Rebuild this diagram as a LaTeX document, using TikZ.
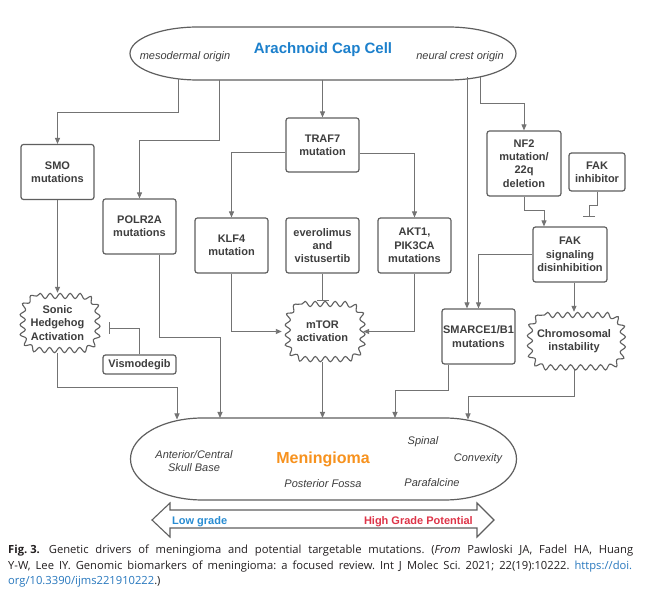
\documentclass[tikz,border=0pt]{standalone}
\usepackage{fontspec}
\setmainfont{Liberation Sans}
\newfontfamily\capfont{Open Sans}
\usetikzlibrary{arrows.meta, decorations.pathmorphing, calc, shapes.geometric}
\definecolor{linegray}{RGB}{115,115,115}
\definecolor{boxgray}{RGB}{95,95,95}
\definecolor{txtgray}{RGB}{62,62,62}
\definecolor{arachblue}{RGB}{28,128,204}
\definecolor{menorange}{RGB}{247,146,30}
\definecolor{hired}{RGB}{222,52,72}
\definecolor{lowblue}{RGB}{40,140,210}
\definecolor{linkblue}{RGB}{40,120,190}
\definecolor{captxt}{RGB}{35,31,32}
\tikzset{
  boxnode/.style={draw=boxgray, line width=1.2pt, rounded corners=2.5pt, fill=white, align=center,
    font=\bfseries\fontsize{11}{13.3}\selectfont, text=txtgray, inner sep=0pt,
    minimum width=73pt, minimum height=55pt},
  burst/.style={rectangle, inner sep=0pt, align=center, font=\bfseries\fontsize{11}{13.3}\selectfont, text=txtgray},
  wavy/.style={draw=boxgray, line width=1.1pt, decorate, decoration={snake, amplitude=2.6pt, segment length=10pt}},
  conn/.style={draw=linegray, line width=0.9pt, -{Triangle[length=6pt,width=5pt]}},
  inhib/.style={draw=linegray, line width=0.9pt, -{Bar[width=12pt,line width=0.9pt]}},
  lbl/.style={font=\itshape\fontsize{11}{13.3}\selectfont, text=txtgray, inner sep=0pt, align=center},
  outline/.style={draw=boxgray, line width=1.2pt},
  capstyle/.style={font=\capfont\fontsize{11.2}{13}\selectfont\frenchspacing, text=captxt, inner sep=0pt, anchor=west}
}
% wavy rounded rectangle: left, right, top, bottom (pixel coords), corner radius
\newcommand{\wavyrect}[5]{%
  \draw[wavy] (#1+#5,#3) -- (#2-#5,#3) arc[start angle=90, end angle=0, radius=#5pt]
    -- (#2,#4-#5) arc[start angle=0, end angle=-90, radius=#5pt]
    -- (#1+#5,#4) arc[start angle=-90, end angle=-180, radius=#5pt]
    -- (#1,#3+#5) arc[start angle=180, end angle=90, radius=#5pt] -- cycle;}
\begin{document}
\begin{tikzpicture}[x=1pt, y=-1pt]
\useasboundingbox[fill=white] (0,0) rectangle (649,601);

% top stadium
\draw[outline] (198,27) arc[start angle=90, end angle=270, x radius=68pt, y radius=26.5pt] -- (448,80)
  arc[start angle=-90, end angle=90, x radius=68pt, y radius=26.5pt] -- cycle;
\node[font=\bfseries\fontsize{15}{17}\selectfont, text=arachblue, inner sep=0pt] (arach) at (323,50) {Arachnoid Cap Cell};
\node[lbl] (meso) at (185,57) {mesodermal origin};
\node[lbl] (neural) at (460,57) {neural crest origin};
\coordinate (o1) at (178,79);
\coordinate (o2) at (219,80);
\coordinate (o3) at (322.5,80);
\coordinate (o4) at (467,77.5);
\coordinate (o5) at (480,77);

% bottom stadium
\draw[outline] (202.5,418) arc[start angle=90, end angle=270, x radius=72pt, y radius=41pt] -- (444.5,500)
  arc[start angle=-90, end angle=90, x radius=72pt, y radius=41pt] -- cycle;
\node[font=\bfseries\fontsize{16}{18}\selectfont, text=menorange, inner sep=0pt] (men) at (323,459) {Meningioma};
\node[lbl] (ant) at (194,461) {Anterior/Central\\Skull Base};
\node[lbl] (spinal) at (423,442) {Spinal};
\node[lbl] (convex) at (478,459) {Convexity};
\node[lbl] (post) at (323,484) {Posterior Fossa};
\node[lbl] (parf) at (432,483) {Parafalcine};
\coordinate (i1) at (177,419.5);
\coordinate (i2) at (220,418);
\coordinate (i3) at (322.5,418);
\coordinate (i4) at (395,418);
\coordinate (i5) at (468,419.5);

% boxes
\node[boxnode] (smo) at (57.5,172) {SMO\\mutations};
\node[boxnode] (polr) at (139.5,226.5) {POLR2A\\mutations};
\node[boxnode, minimum height=54pt] (traf) at (322.5,145) {TRAF7\\mutation};
\node[boxnode] (klf) at (231.5,245.5) {KLF4\\mutation};
\node[boxnode] (ever) at (322.5,245.5) {everolimus\\and\\vistusertib};
\node[boxnode] (akt) at (414.5,245.5) {AKT1,\\PIK3CA\\mutations};
\node[boxnode, minimum width=74pt, minimum height=65pt] (nf2) at (524,163.5) {NF2\\mutation/\\22q\\deletion};
\node[boxnode, minimum width=56pt, minimum height=38pt] (fakinh) at (597,172) {FAK\\inhibitor};
\node[boxnode, minimum width=74pt] (fak) at (570,254.5) {FAK\\signaling\\disinhibition};
\node[boxnode] (smarce) at (478.5,336.5) {SMARCE1/B1\\mutations};
\node[boxnode, minimum height=19pt] (vis) at (139.5,364.5) {Vismodegib};

% bursts
\node[burst, minimum width=81pt, minimum height=60pt] (sonic) at (57.5,323) {Sonic\\Hedgehog\\Activation};
\wavyrect{20}{95}{296}{350}{17}
\node[burst, minimum width=81pt, minimum height=61pt] (mtor) at (322.5,331.5) {mTOR\\activation};
\wavyrect{285}{360}{304}{359}{17}
\node[burst, minimum width=99pt, minimum height=58pt] (chrom) at (574,341) {Chromosomal\\instability};
\wavyrect{527.5}{620.5}{315}{367}{17}

% connectors from Arachnoid Cap Cell
\draw[conn] (o1) -- (o1 |- 0,112) -| (smo.north);
\draw[conn] (o2) -- (o2 |- 0,140) -| (polr.north);
\draw[conn] (o3) -- (traf.north);
\draw[conn] (o4) -- (o4 |- smarce.north);
\draw[conn] (o5) -- (o5 |- 0,103) -| (nf2.north);

% TRAF7 branch
\draw[conn] ($(traf.west)+(0,7)$) -| (klf.north);
\draw[conn] ($(traf.east)+(0,8)$) -| (akt.north);
\draw[conn] (klf.south) |- (mtor.west);
\draw[conn] (akt.south) |- (mtor.east);
\draw[inhib] (ever.south) -- (mtor.north);
\draw[conn] (mtor.south) -- (i3);

% SMO branch
\draw[conn] (smo.south) -- (sonic.north);
\draw[inhib] (vis.north) |- (109,328);
\draw[conn] (sonic.south) -- (sonic.south |- 0,387) -| (i1);
\draw[conn] ($(polr.south)+(20,0)$) -- ++(0,83) -| (i2);

% NF2 / FAK branch
\draw[conn] (nf2.south) -- (nf2.south |- 0,210) -| ($(fak.north)+(-26,0)$);
\draw[inhib] (fakinh.south) -- (fakinh.south |- 0,205) -| (589,217);
\draw[conn] (fak.west) -| (smarce.north);
\draw[conn] (fak.south -| chrom.north) -- (chrom.north);
\draw[conn] ($(smarce.south)+(-30,0)$) -- ++(0,26) -| (i4);
\draw[conn] (chrom.south) -- (chrom.south |- 0,396) -| (i5);

% grade arrow
\draw[outline, line width=1.1pt] (152,520) -- (170,503) -- (170,510) -- (477,510) -- (477,503) -- (494,520)
  -- (477,537) -- (477,528) -- (170,528) -- (170,537) -- cycle;
\node[font=\bfseries\fontsize{11}{13}\selectfont, text=lowblue, anchor=west, inner sep=0pt] (low) at (172,522) {Low grade};
\node[font=\bfseries\fontsize{11}{13}\selectfont, text=hired, anchor=east, inner sep=0pt] (high) at (473,522) {High Grade Potential};

% caption
\node[capstyle] (cap1) at (8,551) {\makebox[625pt][s]{\textbf{Fig.\hspace{3pt}3.}\hspace{9pt}Genetic drivers of meningioma and potential targetable mutations. (\textit{From} Pawloski JA, Fadel HA, Huang}};
\node[capstyle] (cap2) at (8,567) {\makebox[624pt][s]{Y-W, Lee IY. Genomic biomarkers of meningioma: a focused review. Int J Molec Sci. 2021; 22(19):10222. \textcolor{linkblue}{https://doi.}}};
\node[capstyle] (cap3) at (8,582) {\textcolor{linkblue}{org/10.3390/ijms221910222}.)};
\end{tikzpicture}
\end{document}
